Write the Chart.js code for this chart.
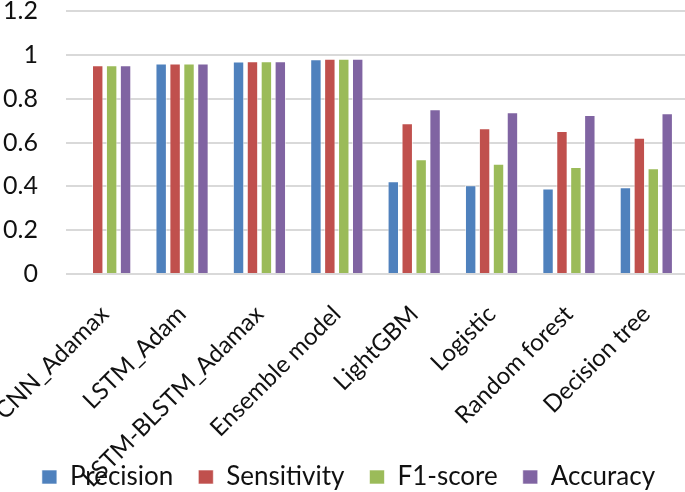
<!DOCTYPE html>
<html>
<head>
<meta charset="utf-8">
<script src="https://cdn.jsdelivr.net/npm/chart.js@4"></script>
<style>
  html, body { margin: 0; padding: 0; background: #fff; }
  #wrap { width: 685px; height: 492px; }
</style>
</head>
<body>
<div id="wrap"><canvas id="myChart"></canvas></div>
<script>
const labels = ['CNN_Adamax', 'LSTM_Adam', 'LSTM-BLSTM_Adamax', 'Ensemble model',
  'LightGBM', 'Logistic', 'Random forest', 'Decision tree'];

const precision   = [null, 0.96, 0.97, 0.98, 0.423, 0.405, 0.39, 0.396];
const sensitivity = [0.952, 0.961, 0.971, 0.982, 0.688, 0.665, 0.653, 0.622];
const f1score     = [0.952, 0.961, 0.971, 0.982, 0.524, 0.503, 0.488, 0.483];
const accuracy    = [0.952, 0.961, 0.971, 0.982, 0.752, 0.738, 0.726, 0.734];

const yTicks = [0, 0.2, 0.4, 0.6, 0.8, 1, 1.2];

function ds(label, color, values) {
  return {
    label: label,
    data: values,
    backgroundColor: color,
    borderColor: 'rgba(255,255,255,0.6)',
    borderWidth: 1,
    barPercentage: 0.82,
    categoryPercentage: 0.72
  };
}

const data = {
  labels: labels,
  datasets: [
    ds('Precision', '#4F81BD', precision),
    ds('Sensitivity', '#C0504D', sensitivity),
    ds('F1-score', '#9BBB59', f1score),
    ds('Accuracy', '#8064A2', accuracy)
  ]
};

// let rotated tick labels spill outside their scale box (no clipping)
const noClip = s => { s._computeLabelArea = () => undefined; };

const config = {
  type: 'bar',
  data: data,
  options: {
    responsive: true,
    maintainAspectRatio: false,
    animation: false,
    layout: { padding: { top: 0, right: 0, left: 12, bottom: -8 } },
    plugins: {
      tooltip: { enabled: false },
      legend: {
        position: 'bottom',
        labels: {
          font: { family: 'Lato', size: 26 },
          color: '#111',
          boxWidth: 15,
          boxHeight: 14,
          padding: 25
        }
      }
    },
    scales: {
      x: {
        grid: { display: false },
        border: { display: false },
        afterFit: s => { s.height = 165; s.paddingLeft = 0; s.paddingRight = 0; noClip(s); },
        ticks: {
          font: { family: 'Lato', size: 24 },
          color: '#111',
          minRotation: 45,
          maxRotation: 45,
          padding: 18
        }
      },
      y: {
        min: 0,
        max: 1.2,
        afterBuildTicks: axis => { axis.ticks = yTicks.map(v => ({ value: v })); },
        afterFit: s => { s.width = 54; s.paddingTop = 11; s.paddingBottom = 0; noClip(s); },
        grid: { color: '#d9d9d9', lineWidth: 2, drawTicks: false },
        border: { display: false },
        ticks: {
          font: { family: 'Lato', size: 25 },
          color: '#111',
          padding: 28,
          callback: v => String(v)
        }
      }
    }
  }
};

const myChart = new Chart(document.getElementById('myChart'), config);
</script>
</body>
</html>
